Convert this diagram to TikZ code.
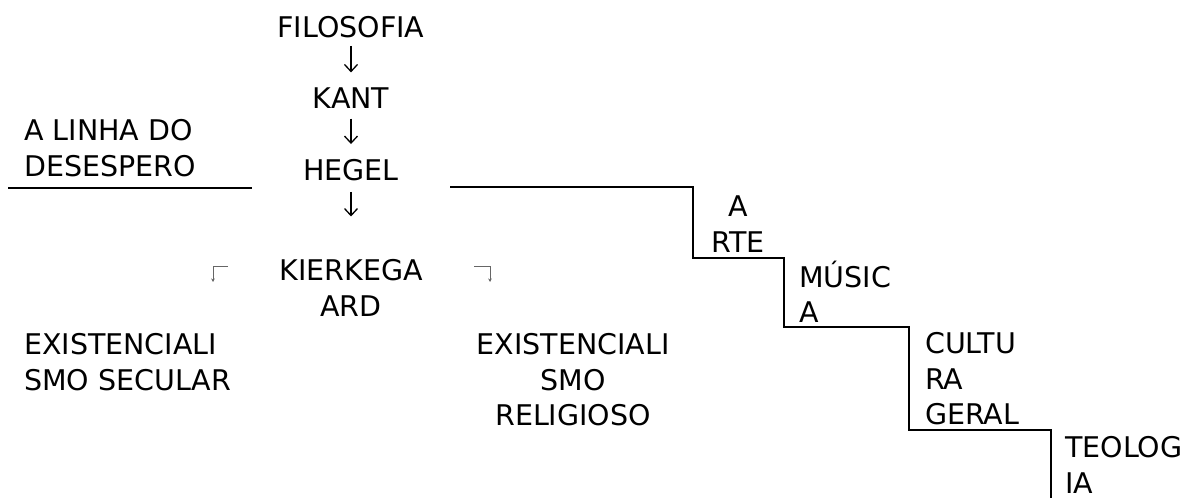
\documentclass[tikz,border=0pt]{standalone}
\usepackage{fontspec}
\setmainfont{DejaVu Sans}
\usetikzlibrary{arrows.meta}
\tikzset{
    lbl/.style={inner sep=0pt, font=\fontsize{28.5}{35.5}\selectfont},
    seta/.style={line width=1.3pt, -{Straight Barb[length=7pt,width=13pt]}},
    linha/.style={line width=1.8pt},
    mini/.style={line width=1pt, draw=black!60, -{Stealth[length=3.5pt,width=3.5pt]}}
}
\begin{document}
\begin{tikzpicture}[x=1pt,y=-1pt]
    \useasboundingbox (0,0) rectangle (1197,498);

    \node[lbl] (filo) at (351,27) {FILOSOFIA};
    \node[lbl] (kant) at (351,98) {KANT};
    \node[lbl] (hegel) at (351,170) {HEGEL};
    \node[lbl,align=center] (kierk) at (351,288) {KIERKEGA\\ARD};

    \node[lbl,align=left,anchor=west] (desespero) at (24,148) {A LINHA DO\\DESESPERO};
    \node[lbl,align=left,anchor=west] (secular) at (24,362) {EXISTENCIALI\\SMO SECULAR};
    \node[lbl,align=center] (religioso) at (573,380) {EXISTENCIALI\\SMO\\RELIGIOSO};

    \node[lbl,align=center] (arte) at (738,224) {A\\RTE};
    \node[lbl,align=left,anchor=west] (musica) at (799,292) {MÚSIC\\A};
    \node[lbl,align=left,anchor=west] (cultura) at (925,379) {CULTU\\RA\\GERAL};
    \node[lbl,align=left,anchor=west] (teologia) at (1065,465) {TEOLOG\\IA};

    \draw[seta, shorten <=8pt, shorten >=15pt] (filo) -- (kant);
    \draw[seta, shorten <=10pt, shorten >=15pt] (kant) -- (hegel);
    \draw[seta, shorten <=11pt, shorten >=43pt] (hegel) -- (kierk);

    % linha do desespero
    \draw[linha] (8,188) -- (252,188);
    \draw[linha] (450,187) -| (693,258) -| (784,327) -| (909,430) -| (1051,498);

    % setinhas ao lado de kierkegaard
    \draw[mini] (228,266) -- (213,266) -- (213,282);
    \draw[mini] (474,266) -- (490,266) -- (490,282);
\end{tikzpicture}
\end{document}
